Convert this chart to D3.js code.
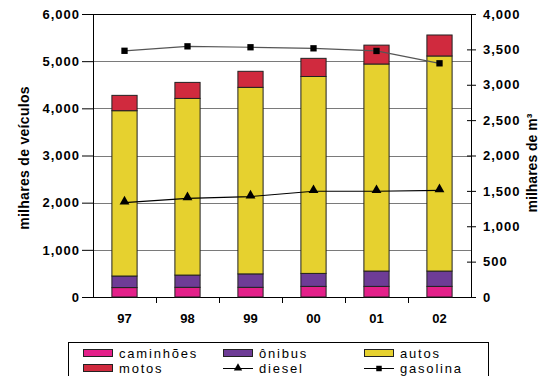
<!DOCTYPE html>
<html>
<head>
<meta charset="utf-8">
<script src="https://cdn.jsdelivr.net/npm/d3@7"></script>
<style>
	body { margin: 0; background: #fff; }
	text { font-family: "Liberation Sans", Arial, sans-serif; fill: #000; }
</style>
</head>
<body>
<div id="chart"></div>
<script>

///////////////////////////////////////////////////////////////////////////
///////////////////////////////// Data ////////////////////////////////////
///////////////////////////////////////////////////////////////////////////

var years = ["97", "98", "99", "00", "01", "02"];

//milhares de veículos (left axis)
var caminhoes = [200, 205, 205, 225, 225, 225];
var onibus = [245, 260, 285, 275, 325, 325];
var autos = [3505, 3745, 3955, 4175, 4390, 4560];
var motos = [325, 340, 340, 385, 400, 445];

//milhares de m3 (right axis)
var diesel = [1335, 1395, 1420, 1495, 1495, 1508];
var gasolina = [3480, 3543, 3530, 3515, 3478, 3303];

var leftTicks = [0, 1000, 2000, 3000, 4000, 5000, 6000];
var rightTicks = [0, 500, 1000, 1500, 2000, 2500, 3000, 3500, 4000];

var seriesKeys = ["caminhoes", "onibus", "autos", "motos"];
var seriesColors = {
	caminhoes: "#E4208A",
	onibus: "#6E3C96",
	autos: "#E6D12F",
	motos: "#D02A3E"
};

///////////////////////////////////////////////////////////////////////////
//////////////////// Set up and initiate svg containers ///////////////////
///////////////////////////////////////////////////////////////////////////

var W = 558, H = 376;
var margin = { top: 14, right: 87, bottom: 79, left: 93 };
var width = W - margin.left - margin.right;
var height = H - margin.top - margin.bottom;

var svgRoot = d3.select("#chart").append("svg")
	.attr("width", W)
	.attr("height", H);

var svg = svgRoot.append("g")
	.attr("transform", "translate(" + margin.left + "," + margin.top + ")");

var x = d3.scaleBand().domain(years).range([0, width]).paddingInner(0.6).paddingOuter(0.3);
var yL = d3.scaleLinear().domain([0, 6000]).range([height, 0]);
var yR = d3.scaleLinear().domain([0, 4000]).range([height, 0]);

var fmt = d3.format(",");

///////////////////////////////////////////////////////////////////////////
///////////////////////////// Grid and axes ///////////////////////////////
///////////////////////////////////////////////////////////////////////////

//Gridlines
svg.selectAll(".grid")
	.data(leftTicks.filter(function(d) { return d > 0 && d < 6000; }))
	.enter().append("line")
	.attr("class", "grid")
	.attr("x1", 0).attr("x2", width)
	.attr("y1", function(d) { return Math.round(yL(d)) + 0.5; })
	.attr("y2", function(d) { return Math.round(yL(d)) + 0.5; })
	.style("stroke", "#7a7a7a")
	.style("stroke-width", 1);

//Top border
svg.append("line")
	.attr("x1", 0).attr("x2", width)
	.attr("y1", 0.5).attr("y2", 0.5)
	.style("stroke", "#000");

//Left axis
var leftAxis = svg.append("g")
	.call(d3.axisLeft(yL).tickValues(leftTicks).tickFormat(fmt).tickSize(11).tickPadding(2));

//Right axis
var rightAxis = svg.append("g")
	.attr("transform", "translate(" + width + ",0)")
	.call(d3.axisRight(yR).tickValues(rightTicks).tickFormat(fmt).tickSize(5).tickPadding(7));
rightAxis.selectAll(".tick line").attr("x1", -4);

//Bottom axis (ticks between categories)
var bottomAxis = svg.append("g")
	.attr("transform", "translate(0," + height + ")")
	.call(d3.axisBottom(x).tickSize(0).tickPadding(17));
bottomAxis.selectAll(".sep")
	.data(years.slice(1))
	.enter().append("line")
	.attr("class", "sep")
	.attr("x1", function(d) { return Math.round(x(d) - x.step() * x.paddingInner() / 2) + 0.5; })
	.attr("x2", function(d) { return Math.round(x(d) - x.step() * x.paddingInner() / 2) + 0.5; })
	.attr("y1", 0).attr("y2", 6)
	.style("stroke", "#000");

[leftAxis, rightAxis, bottomAxis].forEach(function(a) {
	a.selectAll(".domain").style("stroke", "#000");
	a.selectAll(".tick line").style("stroke", "#000");
	a.selectAll("text")
		.style("font-family", "'Liberation Sans', Arial, sans-serif")
		.style("font-size", "13px")
		.style("font-weight", "bold")
		.style("fill", "#000");
});
leftAxis.selectAll("text").style("letter-spacing", "1px");
rightAxis.selectAll("text").style("letter-spacing", "1px");
bottomAxis.select(".domain").attr("d", "M0,0.5H" + width);

///////////////////////////////////////////////////////////////////////////
///////////////////////////////// Bars ////////////////////////////////////
///////////////////////////////////////////////////////////////////////////

var table = years.map(function(yr, i) {
	return { year: yr, caminhoes: caminhoes[i], onibus: onibus[i], autos: autos[i], motos: motos[i] };
});
var stacked = d3.stack().keys(seriesKeys)(table);

svg.selectAll(".layer")
	.data(stacked)
	.enter().append("g")
	.attr("class", "layer")
	.style("fill", function(d) { return seriesColors[d.key]; })
	.selectAll("rect")
	.data(function(d) { return d; })
	.enter().append("rect")
	.attr("x", function(d) { return x(d.data.year); })
	.attr("width", x.bandwidth())
	.attr("y", function(d) { return yL(d[1]); })
	.attr("height", function(d) { return yL(d[0]) - yL(d[1]); })
	.style("stroke", "#222")
	.style("stroke-width", 1);

///////////////////////////////////////////////////////////////////////////
///////////////////////////////// Lines ///////////////////////////////////
///////////////////////////////////////////////////////////////////////////

var line = d3.line()
	.x(function(d, i) { return x(years[i]) + x.bandwidth() / 2; })
	.y(function(d) { return yR(d); });

svg.append("path")
	.datum(gasolina)
	.attr("d", line)
	.style("fill", "none")
	.style("stroke", "#555")
	.style("stroke-width", 1.2);

svg.append("path")
	.datum(diesel)
	.attr("d", line)
	.style("fill", "none")
	.style("stroke", "#000")
	.style("stroke-width", 1.2);

var square = d3.symbol().type(d3.symbolSquare).size(40);
var triangle = d3.symbol().type(d3.symbolTriangle).size(42);

svg.selectAll(".gas-marker")
	.data(gasolina)
	.enter().append("path")
	.attr("class", "gas-marker")
	.attr("d", square)
	.attr("transform", function(d, i) { return "translate(" + (x(years[i]) + x.bandwidth() / 2) + "," + yR(d) + ")"; })
	.style("fill", "#000");

svg.selectAll(".diesel-marker")
	.data(diesel)
	.enter().append("path")
	.attr("class", "diesel-marker")
	.attr("d", triangle)
	.attr("transform", function(d, i) { return "translate(" + (x(years[i]) + x.bandwidth() / 2) + "," + (yR(d) - 1) + ")"; })
	.style("fill", "#000");

///////////////////////////////////////////////////////////////////////////
////////////////////////////// Axis titles ////////////////////////////////
///////////////////////////////////////////////////////////////////////////

svgRoot.append("text")
	.attr("transform", "translate(29,158) rotate(-90)")
	.attr("text-anchor", "middle")
	.style("font-size", "14px")
	.style("font-weight", "bold")
	.style("letter-spacing", "0.3px")
	.text("milhares de veículos");

svgRoot.append("text")
	.attr("transform", "translate(537,163) rotate(-90)")
	.attr("text-anchor", "middle")
	.style("font-size", "14px")
	.style("font-weight", "bold")
	.text("milhares de m³");

///////////////////////////////////////////////////////////////////////////
//////////////////////////////// Legend ///////////////////////////////////
///////////////////////////////////////////////////////////////////////////

var legend = svgRoot.append("g");

legend.append("rect")
	.attr("x", 68.5).attr("y", 342.5)
	.attr("width", 420).attr("height", 40)
	.style("fill", "#fff")
	.style("stroke", "#000");

var legendItems = [
	{ label: "caminhões", type: "box", key: "caminhoes", col: 0, row: 0 },
	{ label: "ônibus", type: "box", key: "onibus", col: 1, row: 0 },
	{ label: "autos", type: "box", key: "autos", col: 2, row: 0 },
	{ label: "motos", type: "box", key: "motos", col: 0, row: 1 },
	{ label: "diesel", type: "tri", col: 1, row: 1 },
	{ label: "gasolina", type: "sq", col: 2, row: 1 }
];
var colX = [83, 223, 364];
var rowY = [353, 368];

var li = legend.selectAll(".legend-item")
	.data(legendItems)
	.enter().append("g")
	.attr("class", "legend-item")
	.attr("transform", function(d) { return "translate(" + colX[d.col] + "," + rowY[d.row] + ")"; });

li.filter(function(d) { return d.type === "box"; })
	.append("rect")
	.attr("x", 0.5).attr("y", -3.5)
	.attr("width", 29).attr("height", 7)
	.style("fill", function(d) { return seriesColors[d.key]; })
	.style("stroke", "#222");

li.filter(function(d) { return d.type !== "box"; })
	.append("line")
	.attr("x1", 0).attr("x2", 30)
	.attr("y1", 0.5).attr("y2", 0.5)
	.style("stroke", "#000");

li.filter(function(d) { return d.type === "tri"; })
	.append("path")
	.attr("d", d3.symbol().type(d3.symbolTriangle).size(30))
	.attr("transform", "translate(15,0)")
	.style("fill", "#000");

li.filter(function(d) { return d.type === "sq"; })
	.append("path")
	.attr("d", d3.symbol().type(d3.symbolSquare).size(30))
	.attr("transform", "translate(15,0.5)")
	.style("fill", "#000");

li.append("text")
	.attr("x", 36)
	.attr("y", 5)
	.style("font-size", "13px")
	.style("letter-spacing", "1.8px")
	.text(function(d) { return d.label; });

</script>
</body>
</html>
